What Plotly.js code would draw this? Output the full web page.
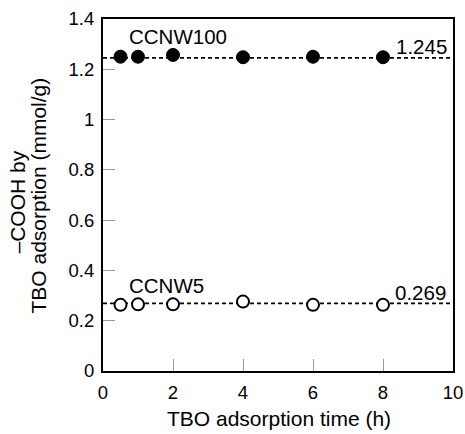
<!DOCTYPE html>
<html><head><meta charset="utf-8">
<script src="https://cdn.plot.ly/plotly-3.0.1.min.js"></script>
<style>html,body{margin:0;padding:0;background:#fff}#chart{width:465px;height:434px}</style>
</head><body><div id="chart"></div>
<script>
const timeH = [0.5, 1, 2, 4, 6, 8];
const ccnw100 = [1.25, 1.25, 1.257, 1.248, 1.25, 1.248];
const ccnw5 = [0.263, 0.265, 0.265, 0.276, 0.263, 0.263];
const avgX = [0, 10];
const avg100 = 1.245;
const avg5 = 0.269;
const xTicks = [0, 2, 4, 6, 8, 10];
const yTicks = [0, 0.2, 0.4, 0.6, 0.8, 1, 1.2, 1.4];
const yTickText = ['0', '0.2', '0.4', '0.6', '0.8', '1', '1.2', '1.4'];
const xTitle = 'TBO adsorption time (h)';
const yTitleLines = ['\u2013COOH by', 'TBO adsorption (mmol/g)'];

const fam = 'Liberation Sans, Arial, sans-serif';
const tickFont = {family: fam, size: 18.5, color: '#000'};
const titleFont = {family: fam, size: 21, color: '#000'};
const annFont = {family: fam, size: 20.5, color: '#000'};

const traces = [
  {x: avgX, y: [avg100, avg100], mode: 'lines', line: {color: '#000', width: 1.8, dash: '4px,3px'}, hoverinfo: 'skip'},
  {x: avgX, y: [avg5, avg5], mode: 'lines', line: {color: '#000', width: 1.8, dash: '4px,3px'}, hoverinfo: 'skip'},
  {x: timeH, y: ccnw100, mode: 'markers', marker: {color: '#000', size: 13, line: {color: '#000', width: 1}}},
  {x: timeH, y: ccnw5, mode: 'markers', marker: {color: '#fff', size: 12, line: {color: '#000', width: 2}}}
];

const L = 103, W = 350, T = 19, H = 352;
const px = v => (v - L) / W;
const py = v => (T + H - v) / H;

const layout = {
  width: 465, height: 434,
  margin: {l: L, r: 465 - L - W, t: T, b: 434 - T - H},
  showlegend: false,
  paper_bgcolor: '#fff', plot_bgcolor: '#fff',
  font: tickFont,
  xaxis: {
    range: [0, 10], tickvals: xTicks, ticktext: xTicks.map(String),
    ticks: 'inside', ticklen: 12, tickcolor: '#999', tickwidth: 1,
    showline: true, linecolor: '#000', linewidth: 2, mirror: true,
    showgrid: false, zeroline: false, ticklabelstandoff: 4, tickfont: tickFont
  },
  yaxis: {
    range: [0, 1.4], tickvals: yTicks, ticktext: yTickText,
    ticks: 'inside', ticklen: 12, tickcolor: '#999', tickwidth: 1,
    showline: true, linecolor: '#000', linewidth: 2, mirror: true,
    showgrid: false, zeroline: false, ticklabelstandoff: 3, tickfont: tickFont
  },
  annotations: [
    {x: 2.13, y: 1.33, text: 'CCNW100', showarrow: false, font: annFont},
    {x: 9.1, y: 1.29, text: '1.245', showarrow: false, font: annFont},
    {x: 1.8, y: 0.342, text: 'CCNW5', showarrow: false, font: annFont},
    {x: 9.06, y: 0.314, text: '0.269', showarrow: false, font: annFont},
    {xref: 'paper', yref: 'paper', x: px(279), y: py(419), text: xTitle, showarrow: false, font: titleFont, xanchor: 'center', yanchor: 'middle'},
    {xref: 'paper', yref: 'paper', x: px(16.5), y: py(202), text: yTitleLines[0], textangle: -90, showarrow: false, font: titleFont, xanchor: 'center', yanchor: 'middle'},
    {xref: 'paper', yref: 'paper', x: px(37.5), y: py(196), text: yTitleLines[1], textangle: -90, showarrow: false, font: titleFont, xanchor: 'center', yanchor: 'middle'}
  ]
};

Plotly.newPlot('chart', traces, layout, {displayModeBar: false, staticPlot: true});
</script>
</body></html>
